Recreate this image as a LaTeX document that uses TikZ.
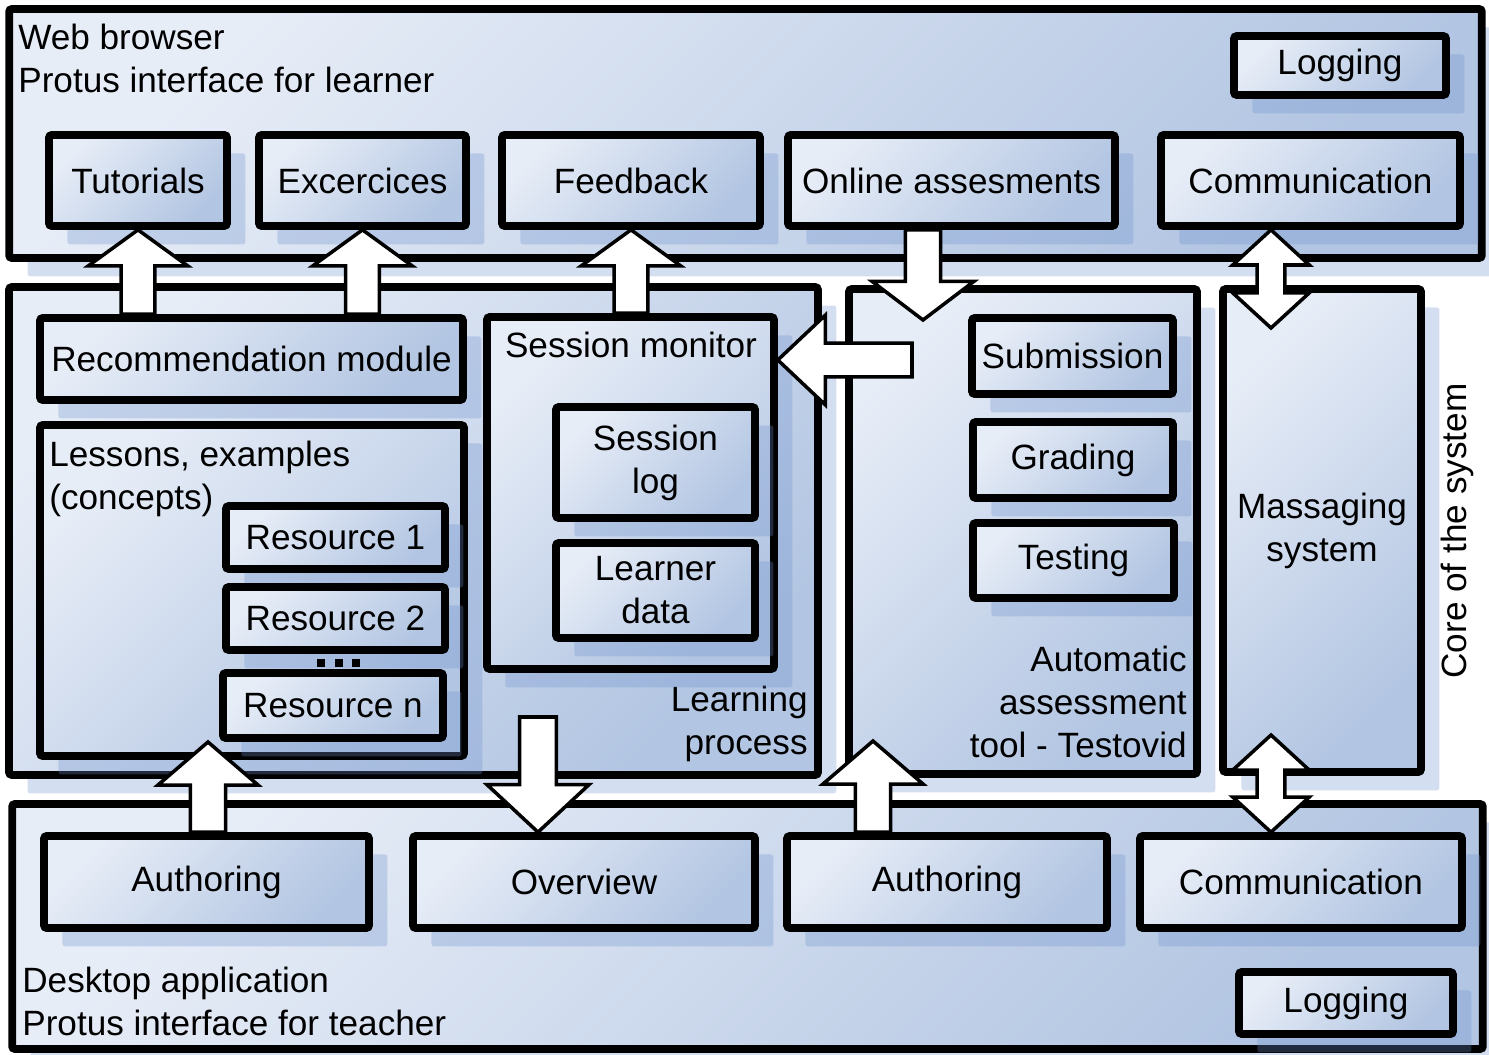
\documentclass[tikz,border=0pt]{standalone}
\usepackage{fontspec}
\setmainfont{Liberation Sans}
\usetikzlibrary{calc, shadows}

\definecolor{boxlight}{RGB}{231,237,247}
\definecolor{boxdark}{RGB}{178,197,226}
\definecolor{shadowblue}{RGB}{110,145,205}
\newcommand{\boxfont}{\fontsize{20}{24.5}\selectfont}

\tikzset{
  box/.style={rectangle, draw=black, line width=4.4pt, rounded corners=1.5pt,
    top color=boxlight, bottom color=boxdark, shading angle=45,
    drop shadow={shadow xshift=10.5pt, shadow yshift=-10.5pt, fill=shadowblue, opacity=0.3},
    font=\boxfont, align=center, inner sep=0pt},
  lbl/.style={font=\boxfont, inner sep=0pt},
  % block arrow: {head length}{head half width}{shaft half width}
  blk/.style n args={3}{draw=black, line width=2pt, fill=white, line join=miter,
    to path={let \p1=(\tikztostart), \p2=(\tikztotarget), \p3=($(\p2)!#1!(\p1)$) in
      ($(\p1)!#3!90:(\p2)$) -- ($(\p3)!#3!90:(\p2)$) -- ($(\p3)!#2!90:(\p2)$) -- (\p2)
      -- ($(\p3)!#2!-90:(\p2)$) -- ($(\p3)!#3!-90:(\p2)$) -- ($(\p1)!#3!-90:(\p2)$) -- cycle}},
  dblk/.style n args={3}{draw=black, line width=2pt, fill=white, line join=miter,
    to path={let \p1=(\tikztostart), \p2=(\tikztotarget), \p3=($(\p1)!#1!(\p2)$), \p4=($(\p2)!#1!(\p1)$) in
      (\p1) -- ($(\p3)!#2!90:(\p2)$) -- ($(\p3)!#3!90:(\p2)$) -- ($(\p4)!#3!90:(\p2)$) -- ($(\p4)!#2!90:(\p2)$) -- (\p2)
      -- ($(\p4)!#2!-90:(\p2)$) -- ($(\p4)!#3!-90:(\p2)$) -- ($(\p3)!#3!-90:(\p2)$) -- ($(\p3)!#2!-90:(\p2)$) -- cycle}}
}

\begin{document}
\begin{tikzpicture}[x=0.02cm, y=-0.02cm]
\useasboundingbox (0,0) rectangle (1489,1055);

% ---- panels ----
\node[box, minimum width=29.46cm, minimum height=4.98cm] (web) at (745.5,133.5) {};
\node[box, minimum width=16.18cm, minimum height=9.76cm] (learn) at (413.5,531) {};
\node[box, minimum width=6.96cm, minimum height=9.70cm] (assess) at (1023,531.5) {};
\node[box, minimum width=3.96cm, minimum height=9.66cm] (msg) at (1322,530.5) {Massaging\\system};
\node[box, minimum width=29.42cm, minimum height=4.90cm] (desk) at (747.5,926.5) {};

\node[lbl, anchor=north west, align=left] (webtxt) at (18,24) {Web browser\\Protus interface for learner};
\node[lbl, anchor=north west, align=left] (desktxt) at (22,967) {Desktop application\\Protus interface for teacher};
\node[lbl, anchor=north east, align=right] (learntxt) at (808,686) {Learning\\process};
\node[lbl, anchor=north east, align=right] (assesstxt) at (1187,646) {Automatic\\assessment\\tool - Testovid};
\node[lbl, rotate=90] (core) at (1457,531) {Core of the system};

% ---- interface for learner ----
\node[box, minimum width=4.24cm, minimum height=1.18cm] (logtop) at (1340,65.5) {Logging};
\node[box, minimum width=3.56cm, minimum height=1.82cm] (tut) at (138,180.5) {Tutorials};
\node[box, minimum width=4.14cm, minimum height=1.82cm] (exc) at (362.5,180.5) {Excercices};
\node[box, minimum width=5.16cm, minimum height=1.82cm] (fb) at (631,180.5) {Feedback};
\node[box, minimum width=6.54cm, minimum height=1.82cm] (onl) at (951.5,180.5) {Online assesments};
\node[box, minimum width=5.98cm, minimum height=1.82cm] (comtop) at (1310.5,180.5) {Communication};

% ---- learning process ----
\node[box, minimum width=8.46cm, minimum height=1.64cm] (rec) at (251.5,359) {Recommendation module};
\node[box, minimum width=8.48cm, minimum height=6.62cm] (les) at (252,590.5) {};
\node[lbl, anchor=north west, align=left] (lestxt) at (49,441) {Lessons, examples\\(concepts)};
\node[box, minimum width=4.38cm, minimum height=1.26cm] (res1) at (335.5,537.5) {Resource 1};
\node[box, minimum width=4.38cm, minimum height=1.26cm] (res2) at (335.5,618.5) {Resource 2};
\node[box, minimum width=4.40cm, minimum height=1.30cm] (resn) at (333,705.5) {Resource n};
\fill (317,659) rectangle (325,667);
\fill (334.5,659) rectangle (342.5,667);
\fill (352,659) rectangle (360,667);

\node[box, minimum width=5.74cm, minimum height=7.04cm] (ses) at (630.5,493) {};
\node[lbl, anchor=north] (sestxt) at (631,332) {Session monitor};
\node[box, minimum width=3.98cm, minimum height=2.22cm] (slog) at (655.5,462.5) {Session\\log};
\node[box, minimum width=3.98cm, minimum height=1.90cm] (ldat) at (655.5,590.5) {Learner\\data};

% ---- assessment tool ----
\node[box, minimum width=4.02cm, minimum height=1.52cm] (sub) at (1072.5,356) {Submission};
\node[box, minimum width=4.00cm, minimum height=1.52cm] (grd) at (1073,460) {Grading};
\node[box, minimum width=4.02cm, minimum height=1.50cm] (tst) at (1073.5,560.5) {Testing};

% ---- interface for teacher ----
\node[box, minimum width=6.50cm, minimum height=1.84cm] (auth1) at (206.5,882) {Authoring};
\node[box, minimum width=6.84cm, minimum height=1.84cm] (ovw) at (584,882) {Overview};
\node[box, minimum width=6.40cm, minimum height=1.84cm] (auth2) at (947,882) {Authoring};
\node[box, minimum width=6.44cm, minimum height=1.84cm] (combot) at (1301,882) {Communication};
\node[box, minimum width=4.28cm, minimum height=1.24cm] (logbot) at (1346,1003) {Logging};

% ---- arrow ends ----
\coordinate (ontip) at (923,320);
\coordinate (astail) at (912,360);
\coordinate (msgtop) at (1271,328);
\coordinate (msgbot) at (1271,735);
\coordinate (lestip) at (208,742);
\coordinate (ovtail) at (538,717);
\coordinate (astip) at (873,741);

% ---- arrows ----
\draw[blk={20.5pt}{28.3pt}{9.6pt}] (rec.north -| tut) to (tut.south);
\draw[blk={20.5pt}{28.3pt}{9.6pt}] (rec.north -| exc) to (exc.south);
\draw[blk={20.5pt}{28.3pt}{9.6pt}] (ses.north -| fb) to (fb.south);
\draw[blk={22pt}{29pt}{10pt}] (onl.south -| ontip) to (ontip);
\draw[blk={27pt}{25.5pt}{9.6pt}] (astail) to (astail -| ses.east);
\draw[dblk={20pt}{21.8pt}{7.9pt}] (comtop.south -| msgtop) to (msgtop);
\draw[dblk={20pt}{21.8pt}{7.9pt}] (msgbot) to (combot.north -| msgbot);
\draw[blk={24.5pt}{28.5pt}{10pt}] (auth1.north -| lestip) to (lestip);
\draw[blk={27pt}{29pt}{10.5pt}] (ovtail) to (ovtail |- ovw.north);
\draw[blk={24.5pt}{28.5pt}{10pt}] (auth2.north -| astip) to (astip);

\end{tikzpicture}
\end{document}
